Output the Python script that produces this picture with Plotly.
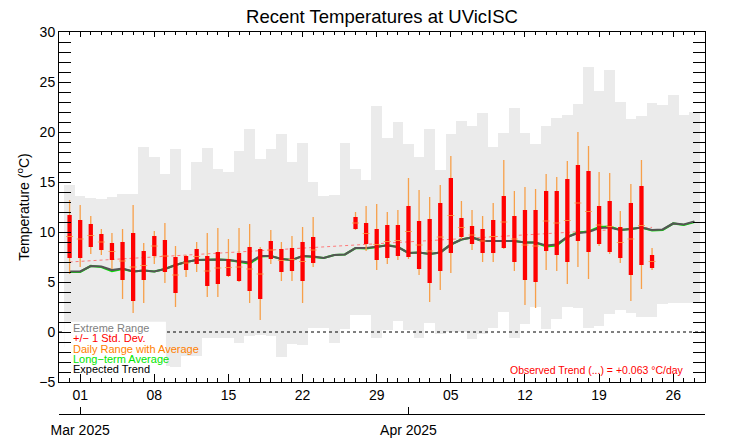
import numpy as np
import pandas as pd
import plotly.graph_objects as go

# ---------------- data ----------------
all_days = pd.date_range("2025-02-28", "2025-04-28", freq="D")  # 60 days

extreme_high = [14.7, 13.6, 13.4, 13.3, 13.5, 13.8, 13.8, 18.5, 17.5, 15.8,
                18.3, 14.2, 17.0, 18.4, 16.3, 16.0, 18.1, 20.3, 17.3, 18.3,
                19.8, 17.0, 18.9, 15.0, 13.6, 13.7, 18.9, 16.3, 15.2, 22.6,
                19.4, 21.0, 18.8, 17.5, 20.3, 16.2, 19.8, 21.1, 20.6, 21.9,
                18.5, 19.9, 22.4, 19.9, 18.8, 20.6, 21.4, 21.7, 22.8, 26.5,
                24.1, 26.2, 23.0, 21.3, 21.6, 22.9, 22.7, 23.7, 21.7, 22.0]

extreme_low = [-1.5, -2.0, -1.0, -2.5, -1.8, -0.5, -1.2, -2.2, -1.0, -3.4,
               -3.5, -2.4, -2.4, -0.6, -0.6, -0.6, -1.1, -0.4, -0.3, -0.4,
               -2.5, -1.2, -1.3, 0.4, 0.4, -1.1, 0.3, 1.7, 1.7, -0.6,
               0.2, 1.1, 0.2, -0.6, 0.9, -0.2, 0.0, 0.0, -0.7, -0.2,
               0.4, 2.0, -0.6, 0.8, 2.5, 0.3, 1.3, 2.5, 2.4, 0.4,
               0.6, 1.8, 2.2, 1.9, 1.5, 1.5, 2.8, 2.9, 2.9, 2.9]

expected_trend = [6.05, 6.05, 6.6, 6.55, 6.2, 6.35, 6.05, 6.15, 6.05, 6.3,
                  6.7, 7.0, 7.2, 7.25, 7.25, 7.2, 7.05, 6.95, 7.6, 7.6,
                  7.3, 7.2, 7.6, 7.55, 7.4, 7.7, 7.75, 8.4, 8.4, 8.5,
                  8.65, 8.5, 7.9, 7.95, 7.8, 7.95, 8.75, 9.25, 9.45, 9.1,
                  9.1, 9.1, 9.1, 8.95, 8.95, 8.65, 8.75, 9.5, 9.9, 10.0,
                  10.4, 10.45, 10.2, 10.3, 10.45, 10.2, 10.25, 10.85, 10.75, 11.05]

long_term_avg = [6.0, 6.0, 6.6, 6.5, 6.1, 6.3, 6.05, 6.15, 6.05, 6.3,
                 6.7, 7.0, 7.2, 7.25, 7.25, 7.2, 7.0, 6.85, 7.55, 7.6,
                 7.3, 7.2, 7.6, 7.5, 7.4, 7.7, 7.75, 8.4, 8.35, 8.5,
                 8.7, 8.5, 7.9, 7.95, 7.8, 7.95, 8.75, 9.25, 9.45, 9.1,
                 9.1, 9.1, 9.1, 8.95, 8.95, 8.55, 8.65, 9.5, 9.95, 10.05,
                 10.5, 10.55, 10.2, 10.3, 10.45, 10.15, 10.2, 10.85, 10.7, 11.0]

obs_days = pd.date_range("2025-02-28", "2025-04-24", freq="D")  # 56 days
N = None
daily_max = [13.2, 12.7, 11.6, 10.3, 9.9, 10.3, 12.7, 8.9, 10.1, 10.9,
             8.6, 7.7, 9.0, 9.9, 10.4, 9.3, 10.4, 10.8, 8.5, 10.2,
             9.0, 9.6, 10.5, 11.5, N, N, N, 12.0, 12.6, 12.8,
             12.0, 12.2, 15.4, 14.2, 13.5, 14.7, 17.6, 13.1, 12.2, 11.6,
             12.9, 17.2, 14.1, 14.5, 14.3, 15.8, 15.5, 17.1, 20.0, 18.6,
             16.0, 15.9, 12.1, 14.8, 17.2, 8.4]
daily_min = [5.8, 6.5, 7.8, 7.7, 6.3, 3.3, 1.9, 2.9, 6.8, 4.9,
             2.5, 5.5, 6.0, 3.5, 3.5, 5.5, 5.0, 2.9, 1.2, 6.8,
             5.1, 5.1, 2.9, 6.5, N, N, N, 10.2, 8.1, 6.2,
             6.8, 7.2, 7.3, 5.7, 3.0, 4.2, 5.9, 9.3, 8.2, 7.0,
             7.0, 8.3, 6.1, 2.7, 2.4, 6.2, 6.1, 4.8, 6.5, 5.3,
             8.6, 7.8, 6.9, 3.1, 4.3, 6.2]
daily_mean = [9.55, 9.3, 9.65, 9.0, 8.05, 7.1, 6.5, 6.65, 8.6, 7.6,
              5.7, 6.9, 7.55, 6.1, 6.4, 6.45, 6.5, 6.3, 5.8, 8.2,
              7.15, 7.25, 7.05, 8.2, N, N, N, 10.9, 9.85, 8.75,
              9.05, 9.15, 10.05, 8.7, 8.1, 9.5, 11.65, 10.45, 9.7, 9.1,
              9.55, 11.0, 9.3, 8.7, 8.6, 11.1, 10.9, 11.15, 12.9, 12.05,
              10.7, 10.55, 8.95, 9.3, 10.65, 7.05]
daily_std = [2.15, 1.9, 1.15, 0.8, 0.85, 1.9, 3.4, 1.45, 1.0, 1.6,
             1.8, 0.7, 0.75, 1.5, 1.6, 0.85, 1.4, 2.2, 2.5, 0.9,
             1.15, 1.15, 1.95, 1.3, N, N, N, 0.6, 1.05, 1.55,
             1.65, 1.55, 2.55, 2.4, 3.2, 3.4, 3.75, 0.95, 0.9, 1.2,
             1.65, 2.6, 2.3, 3.5, 3.6, 3.0, 3.2, 4.15, 3.8, 4.05,
             1.9, 2.55, 1.55, 3.6, 3.95, 0.65]

trend_start = 7.0      # deg C at first observed day
trend_slope = 0.063    # deg C / day

month_ticks = ["2025-03-01", "2025-04-01"]
month_labels = ["Mar 2025", "Apr 2025"]

x_range = ["2025-02-27", "2025-04-29"]
y_range = [-5, 30]

FONT = "Liberation Sans, Arial, Helvetica, sans-serif"
GRAY_FILL = "#EBEBEB"
ORANGE = "#F7A04A"
RED = "#FF0000"
GREEN = "#00E600"
DARK = "#555555"

# ---------------- figure ----------------
fig = go.Figure()

hi = np.array(extreme_high, dtype=float)
lo = np.array(extreme_low, dtype=float)
fig.add_trace(go.Bar(x=all_days, y=hi - lo, base=lo, width=86400000,
                     marker=dict(color=GRAY_FILL, line=dict(width=0)),
                     hoverinfo="skip", showlegend=False))

# zero line (dotted)
fig.add_trace(go.Scatter(x=x_range, y=[0, 0], mode="lines",
                         line=dict(color="black", width=1, dash="dot"),
                         hoverinfo="skip", showlegend=False))

# legend background box (white)
box_left = all_days[0] - pd.Timedelta(hours=12)
box_right = pd.Timestamp("2025-03-09 02:20")
box_top = 1.03
fig.add_trace(go.Scatter(x=[box_left, box_left, box_right, box_right, box_left],
                         y=[y_range[0], box_top, box_top, y_range[0], y_range[0]],
                         mode="lines", fill="toself", fillcolor="white",
                         line=dict(width=0, color="white"),
                         hoverinfo="skip", showlegend=False))

# observed trend (dotted light red)
ndays = (obs_days[-1] - obs_days[0]).days
fig.add_trace(go.Scatter(x=[obs_days[0], obs_days[-1]],
                         y=[trend_start, trend_start + trend_slope * ndays],
                         mode="lines", line=dict(color="#FF7A7A", width=1, dash="dot"),
                         hoverinfo="skip", showlegend=False))

# long-term average and expected trend
fig.add_trace(go.Scatter(x=all_days, y=long_term_avg, mode="lines",
                         line=dict(color=GREEN, width=2.2), showlegend=False))
fig.add_trace(go.Scatter(x=all_days, y=expected_trend, mode="lines",
                         line=dict(color=DARK, width=2.2), showlegend=False))

# daily range (orange), std box (red), average tick
ox, oy, rx, ry, ax, ay = [], [], [], [], [], []
for d, mx, mn, me, sd in zip(obs_days, daily_max, daily_min, daily_mean, daily_std):
    if mx is None:
        continue
    ox += [d, d, None]
    oy += [mn, mx, None]
    rx += [d, d, None]
    ry += [me - sd, me + sd, None]
    ax.append(d)
    ay.append(me)

fig.add_trace(go.Scatter(x=ox, y=oy, mode="lines", line=dict(color=ORANGE, width=1.3),
                         hoverinfo="skip", showlegend=False))
fig.add_trace(go.Scatter(x=rx, y=ry, mode="lines", line=dict(color=RED, width=4.3),
                         hoverinfo="skip", showlegend=False))
fig.add_trace(go.Scatter(x=ax, y=ay, mode="markers",
                         marker=dict(symbol="line-ew", size=5,
                                     line=dict(color="#FF9A40", width=1)),
                         opacity=0.8, showlegend=False))

# invisible traces so the top axis and the month axis are drawn
fig.add_trace(go.Scatter(x=x_range, y=[None, None], xaxis="x2", yaxis="y",
                         mode="lines", hoverinfo="skip", showlegend=False))
fig.add_trace(go.Scatter(x=x_range, y=[None, None], xaxis="x3", yaxis="y",
                         mode="lines", hoverinfo="skip", showlegend=False))

# ---------------- layout ----------------
day_ms = 86400000
legend_items = [("Extreme Range", "#7F7F7F", 0.37),
                ("+/\u2212 1 Std. Dev.", RED, -0.63),
                ("Daily Range with Average", "#FF7F00", -1.68),
                ("Long\u2212term Average", GREEN, -2.7),
                ("Expected Trend", "black", -3.7)]
annotations = []
for text, col, yy in legend_items:
    annotations.append(dict(text=text, x=0.018, xref="paper", y=yy, yref="y",
                            xanchor="left", yanchor="middle", showarrow=False,
                            font=dict(family=FONT, size=11, color=col)))
annotations.append(dict(text="Observed Trend (...) = +0.063 \u00b0C/day",
                        x=0.9706, xref="paper", y=-3.83, yref="y",
                        xanchor="right", yanchor="middle", showarrow=False,
                        font=dict(family=FONT, size=10.5, color=RED)))

fig.update_layout(
    width=742, height=445,
    margin=dict(l=59, r=37, t=32, b=31, autoexpand=False),
    paper_bgcolor="white", plot_bgcolor="white",
    bargap=0, barmode="overlay",
    showlegend=False,
    font=dict(family=FONT, size=14, color="black"),
    title=dict(text="Recent Temperatures at UVicISC", x=0.5, xref="paper",
               y=1 - 16.7 / 445, yref="container", yanchor="middle", xanchor="center",
               automargin=False,
               font=dict(family=FONT, size=18.5, color="black")),
    xaxis=dict(type="date", range=x_range, anchor="y", automargin=False,
               tick0="2025-03-01", dtick=7 * day_ms, tickformat="%d",
               ticks="inside", ticklen=8, tickwidth=1, tickcolor="black",
               minor=dict(dtick=day_ms, tick0="2025-03-01", ticks="inside", ticklen=4,
                          tickwidth=1, tickcolor="black"),
               showline=True, linecolor="black", linewidth=1,
               showgrid=False, zeroline=False,
               tickfont=dict(family=FONT, size=14, color="black")),
    xaxis2=dict(type="date", range=x_range, overlaying="x", side="top", anchor="y",
                automargin=False,
                tick0="2025-03-01", dtick=7 * day_ms, showticklabels=False,
                ticks="inside", ticklen=5, tickwidth=1, tickcolor="black",
                minor=dict(dtick=day_ms, tick0="2025-03-01", ticks="inside", ticklen=2.5,
                           tickwidth=1, tickcolor="black"),
                showline=True, linecolor="black", linewidth=1,
                showgrid=False, zeroline=False),
    xaxis3=dict(type="date", range=x_range, overlaying="x", side="bottom",
                anchor="free", position=0, automargin=False,
                tickmode="array", tickvals=month_ticks, ticktext=month_labels,
                ticks="inside", ticklen=7, tickwidth=1, tickcolor="black",
                ticklabelstandoff=3,
                showline=True, linecolor="black", linewidth=1,
                showgrid=False, zeroline=False,
                tickfont=dict(family=FONT, size=14, color="black")),
    yaxis=dict(range=y_range, domain=[(414 - 382) / 382, 1], automargin=False,
               tick0=0, dtick=5, ticks="inside", ticklen=12, tickwidth=1,
               tickcolor="black",
               minor=dict(dtick=1, ticks="inside", ticklen=6, tickwidth=1,
                          tickcolor="black"),
               mirror="allticks", showline=True, linecolor="black", linewidth=1,
               showgrid=False, zeroline=False,
               tickfont=dict(family=FONT, size=14, color="black"),
               title=dict(text="Temperature (<sup>o</sup>C)",
                          font=dict(family=FONT, size=14, color="black"),
                          standoff=6)),
    annotations=annotations,
)

fig.write_html("out.html")
